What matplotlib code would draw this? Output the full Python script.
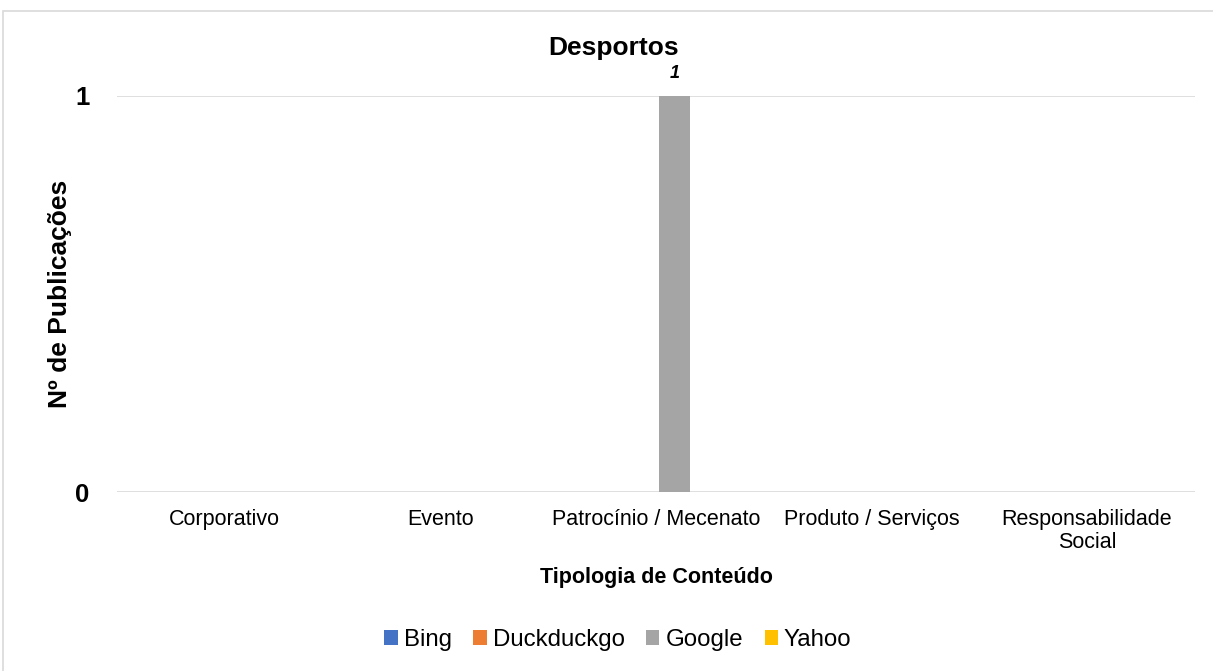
import numpy as np
import matplotlib.pyplot as plt
from matplotlib.patches import Rectangle

plt.rcParams['font.family'] = ['Liberation Sans', 'DejaVu Sans']

# data
categories = ['Corporativo', 'Evento', 'Patrocínio / Mecenato', 'Produto / Serviços',
              'Responsabilidade\nSocial']
series_names = ['Bing', 'Duckduckgo', 'Google', 'Yahoo']
bing = [0, 0, 0, 0, 0]
duckduckgo = [0, 0, 0, 0, 0]
google = [0, 0, 1, 0, 0]
yahoo = [0, 0, 0, 0, 0]
colors = ['#4472C4', '#ED7D31', '#A5A5A5', '#FFC000']

fig = plt.figure(figsize=(12.13, 6.71), dpi=100)
ax = fig.add_axes([0.0965, 0.2667, 0.8885, 0.5903])

# outer chart border (Excel style)
fig.patches.append(Rectangle((3 / 1213, -0.1), 1.2, 1 - 11 / 671 + 0.1,
                             transform=fig.transFigure, fill=False,
                             edgecolor='#D9D9D9', linewidth=1.2))

x = np.arange(len(categories))
w = 0.144
all_series = [bing, duckduckgo, google, yahoo]
for i, (name, vals) in enumerate(zip(series_names, all_series)):
    pos = x + (i - 1.5) * w + 0.015
    bars = ax.bar(pos, vals, width=w, color=colors[i], label=name, zorder=3)
    for b, v in zip(bars, vals):
        if v > 0:
            ax.text(b.get_x() + b.get_width() / 2, v + 0.035, str(v), ha='center', va='bottom',
                    fontsize=13, fontweight='bold', fontstyle='italic')

ax.set_xlim(-0.5, len(categories) - 0.5)
ax.set_ylim(0, 1)
ax.set_yticks([0, 1])
ax.set_yticklabels(['0', '1'], fontsize=18.5, fontweight='bold')
ax.set_xticks(x)
ax.set_xticklabels(categories, fontsize=15.5, linespacing=1.15)
ax.tick_params(axis='both', length=0)
ax.tick_params(axis='y', pad=20)
ax.tick_params(axis='x', pad=12)
ax.grid(axis='y', color='#D9D9D9', linewidth=1.2, zorder=0)
for s in ax.spines.values():
    s.set_visible(False)

fig.text(614 / 1213, 1 - 48 / 671, 'Desportos', ha='center', va='center',
         fontsize=19, fontweight='bold')
fig.text(60 / 1213, 1 - 294 / 671, 'Nº de Publicações', ha='center', va='center',
         rotation=90, fontsize=19, fontweight='bold')
fig.text(656 / 1213, 1 - 577 / 671, 'Tipologia de Conteúdo', ha='center', va='center',
         fontsize=15.5, fontweight='bold')

ax.legend(loc='center', bbox_to_anchor=(618 / 1213, 1 - 640 / 671), bbox_transform=fig.transFigure,
          ncol=4, frameon=False, fontsize=17.3, handlelength=0.55, handleheight=0.55,
          handletextpad=0.25, columnspacing=0.9)

fig.savefig('out.png', dpi=100)
